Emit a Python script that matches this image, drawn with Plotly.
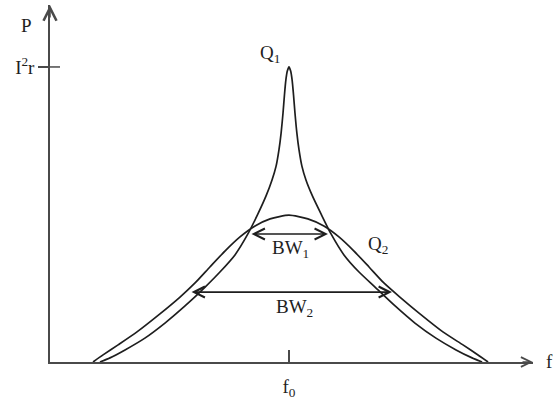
import plotly.graph_objects as go

# Normalised units: f / f0 and P / (I^2 r)
q1_f = [0.209, 0.251, 0.314, 0.397, 0.481, 0.565, 0.649, 0.711, 0.774, 0.828, 0.870, 0.904,
        0.929, 0.946, 0.958, 0.967, 0.975, 0.981, 0.987, 0.993, 1.000,
        1.007, 1.013, 1.019, 1.025, 1.033, 1.042, 1.054, 1.071, 1.098, 1.134, 1.176, 1.230,
        1.293, 1.360, 1.444, 1.527, 1.615, 1.699, 1.766, 1.808]
q1_p = [0.0, 0.014, 0.041, 0.081, 0.132, 0.190, 0.254, 0.305, 0.363, 0.434, 0.502, 0.563,
        0.617, 0.664, 0.719, 0.776, 0.844, 0.905, 0.956, 0.986, 1.000,
        0.986, 0.956, 0.905, 0.844, 0.776, 0.719, 0.664, 0.617, 0.563, 0.502, 0.434, 0.363,
        0.305, 0.254, 0.190, 0.132, 0.081, 0.041, 0.014, 0.0]

q2_f = [0.180, 0.222, 0.285, 0.364, 0.460, 0.544, 0.607, 0.669, 0.732, 0.795, 0.858, 0.921,
        1.000, 1.079, 1.146, 1.209, 1.272, 1.335, 1.397, 1.464, 1.548, 1.644, 1.728, 1.791,
        1.833]
q2_p = [0.0, 0.024, 0.058, 0.102, 0.163, 0.220, 0.268, 0.322, 0.376, 0.424, 0.461, 0.485,
        0.498, 0.485, 0.461, 0.424, 0.376, 0.322, 0.268, 0.220, 0.163, 0.102, 0.058, 0.024,
        0.0]

bw1_f = [0.837, 1.163]
bw1_p = 0.434
bw2_f = [0.586, 1.431]
bw2_p = 0.237

x_tick_vals = [1.0]
x_tick_text = ["f<sub>0</sub>"]
y_tick_vals = [1.0]
y_tick_text = ["I<sup>2</sup>r"]

X_MAX = 2.021
Y_MAX = 1.210

INK = "#1e1e1e"
AXC = "#4a4a4a"
FONT = "Liberation Serif"

fig = go.Figure()
fig.add_trace(go.Scatter(x=q1_f, y=q1_p, mode="lines",
                         line=dict(color=INK, width=1.7, shape="spline", smoothing=0.6),
                         cliponaxis=False, hoverinfo="skip", showlegend=False))
fig.add_trace(go.Scatter(x=q2_f, y=q2_p, mode="lines",
                         line=dict(color=INK, width=1.7, shape="spline", smoothing=0.6),
                         cliponaxis=False, hoverinfo="skip", showlegend=False))

annotations = []
# bandwidth double arrows
for (fa, fb), lvl in ((bw1_f, bw1_p), (bw2_f, bw2_p)):
    annotations.append(dict(x=fb, y=lvl, ax=fa, ay=lvl, xref="x", yref="y", axref="x", ayref="y",
                            text="", showarrow=True, arrowhead=5, startarrowhead=5,
                            arrowside="end+start", arrowsize=1.35, startarrowsize=1.35,
                            arrowwidth=1.6, arrowcolor=INK))
# axis arrow heads
annotations.append(dict(x=X_MAX, y=0, ax=-12, ay=0, xref="x", yref="y", text="", showarrow=True,
                        arrowhead=5, arrowsize=1.3, arrowwidth=1.5, arrowcolor=AXC))
annotations.append(dict(x=0, y=Y_MAX, ax=0, ay=14, xref="x", yref="y", text="", showarrow=True,
                        arrowhead=5, arrowsize=1.7, arrowwidth=1.5, arrowcolor=AXC))

labfont = dict(family=FONT, size=19, color=INK)
annotations += [
    dict(x=0, y=1.140, xref="x", yref="y", xshift=-24, text="P", showarrow=False, font=labfont),
    dict(x=1.0, y=0, xref="paper", yref="y", xshift=16, yshift=1, xanchor="center",
         text="f", showarrow=False, font=labfont),
    dict(x=0.921, y=1.044, xref="x", yref="y", text="Q<sub>1</sub>", showarrow=False, font=labfont),
    dict(x=1.372, y=0.397, xref="x", yref="y", text="Q<sub>2</sub>", showarrow=False, font=labfont),
    dict(x=1.008, y=0.383, xref="x", yref="y", text="BW<sub>1</sub>", showarrow=False, font=labfont),
    dict(x=1.021, y=0.183, xref="x", yref="y", text="BW<sub>2</sub>", showarrow=False, font=labfont),
]

shapes = [dict(type="line", xref="x", yref="y", xsizemode="pixel", xanchor=0,
               x0=0, x1=10, y0=y_tick_vals[0], y1=y_tick_vals[0],
               line=dict(color=AXC, width=1.5))]

fig.update_layout(
    width=555, height=406,
    margin=dict(l=50, r=22, t=5, b=44, autoexpand=False),
    paper_bgcolor="white", plot_bgcolor="white",
    showlegend=False,
    annotations=annotations,
    shapes=shapes,
    xaxis=dict(range=[0, X_MAX], showgrid=False, zeroline=False, showline=True, automargin=False,
               linecolor=AXC, linewidth=1.5, ticks="inside", ticklen=12, tickwidth=1.5,
               tickcolor=AXC, tickvals=x_tick_vals, ticktext=x_tick_text,
               tickfont=labfont, ticklabelstandoff=6, fixedrange=True),
    yaxis=dict(range=[0, Y_MAX], showgrid=False, zeroline=False, showline=True, automargin=False,
               linecolor=AXC, linewidth=1.5, ticks="outside", ticklen=10, tickwidth=1.5,
               tickcolor=AXC, tickvals=y_tick_vals, ticktext=y_tick_text,
               tickfont=labfont, fixedrange=True),
)

fig.write_html("out.html", config={"displayModeBar": False},
               post_script="document.body.style.margin='0';document.body.style.overflow='hidden';")
